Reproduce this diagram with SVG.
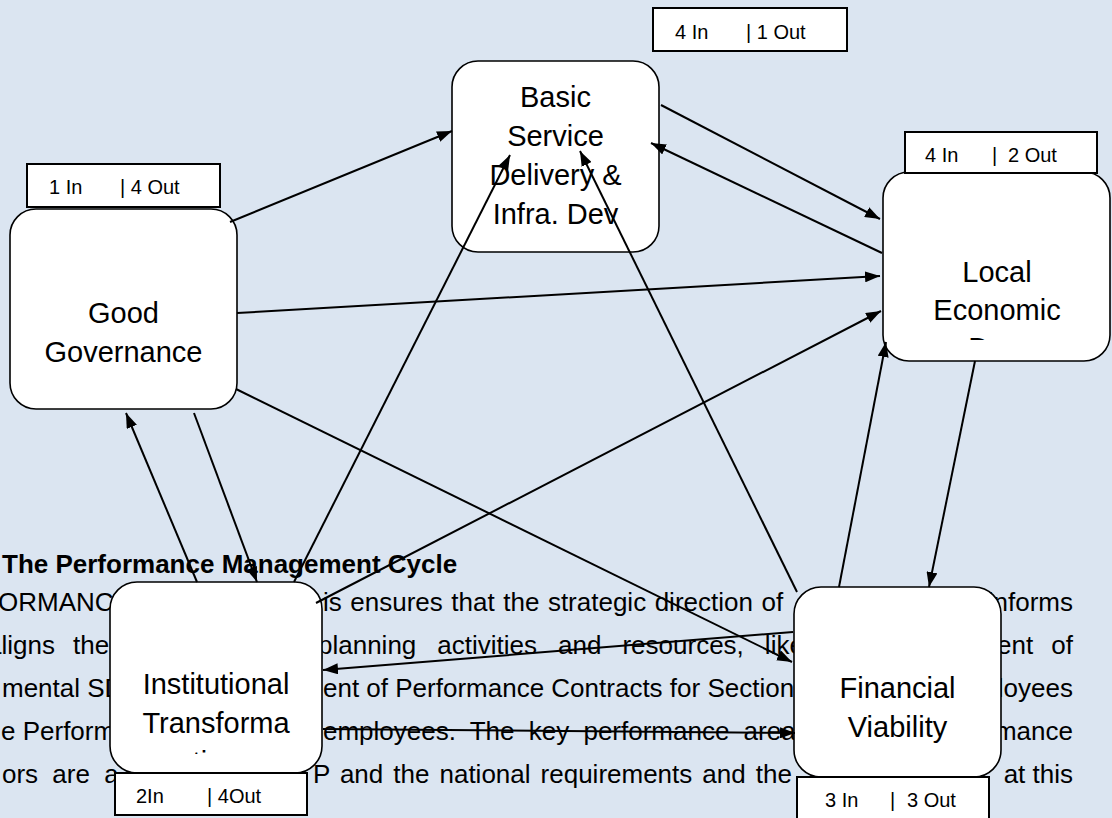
<svg xmlns="http://www.w3.org/2000/svg" width="1112" height="818" viewBox="0 0 1112 818">
  <defs>
    <style>
      .para { font-family: "Liberation Sans", Arial, sans-serif; font-size: 26px; fill: #000; }
      .head { font-weight: bold; }
      .end { text-anchor: end; }
      .box { fill: #fff; stroke: #000; stroke-width: 1.6; }
      .tag { fill: #fff; stroke: #000; stroke-width: 2; }
      .name { font-family: "Liberation Sans", Arial, sans-serif; font-size: 29px; fill: #000; text-anchor: middle; }
      .count { font-family: "Liberation Sans", Arial, sans-serif; font-size: 20px; fill: #000; }
      .edge { stroke: #000; stroke-width: 2; fill: none; marker-end: url(#arrow); }
    </style>
    <marker id="arrow" markerUnits="userSpaceOnUse" markerWidth="15" markerHeight="11" refX="15" refY="5.5" orient="auto">
      <path d="M0,0 L15,5.5 L0,11 Z" fill="#000"/>
    </marker>
    <!-- the node text frames cut the last line short -->
    <clipPath id="clip-led"><rect x="883" y="172" width="227" height="168"/></clipPath>
    <clipPath id="clip-inst"><rect x="110" y="582" width="212" height="172"/></clipPath>
  </defs>

  <rect width="1112" height="818" fill="#dbe5f1"/>

  <!-- page text running behind the diagram -->
  <g id="page-text" class="para">
    <text class="head" x="2" y="573">The Performance Management Cycle</text>

    <text x="-2" y="611">ORMANC</text>
    <text x="323" y="611" word-spacing="1.3">is ensures that the strategic direction of</text>
    <text class="end" x="1073" y="611">informs</text>

    <text x="-13" y="654">aligns</text>
    <text x="73" y="654">the</text>
    <text x="318" y="654" word-spacing="13.8">planning activities and resources, like</text>
    <text x="997" y="654">ent</text>
    <text class="end" x="1073" y="654">of</text>

    <text x="2" y="697">mental SD</text>
    <text x="323" y="697">ent of Performance Contracts for Section</text>
    <text class="end" x="1073" y="697">loyees</text>

    <text x="1" y="740">e Perform</text>
    <text x="323" y="740" word-spacing="7">employees. The key performance areas</text>
    <text class="end" x="1073" y="740">mance</text>

    <text x="2" y="783" word-spacing="7">ors are a</text>
    <text x="313" y="783" word-spacing="2.8">P and the national requirements and the</text>
    <text class="end" x="1073" y="783">at this</text>
  </g>

  <!-- nodes -->
  <g id="node-good-governance">
    <rect class="box" x="10" y="209" width="227" height="200" rx="26" ry="26"/>
    <text class="name" x="123.5" y="323">Good</text>
    <text class="name" x="123.5" y="362">Governance</text>
    <rect class="tag" x="27" y="164" width="193" height="43"/>
    <text class="count" x="49" y="194">1 In</text>
    <text class="count" x="120" y="194">| 4 Out</text>
  </g>

  <g id="node-basic-service">
    <rect class="box" x="452" y="61" width="207" height="191" rx="26" ry="26"/>
    <text class="name" x="555.5" y="107">Basic</text>
    <text class="name" x="555.5" y="146">Service</text>
    <text class="name" x="555.5" y="185">Delivery &amp;</text>
    <text class="name" x="555.5" y="224">Infra. Dev</text>
    <rect class="tag" x="653" y="8" width="194" height="43"/>
    <text class="count" x="675" y="39">4 In</text>
    <text class="count" x="746" y="39">| 1 Out</text>
  </g>

  <g id="node-local-economic">
    <rect class="box" x="883" y="172" width="227" height="189" rx="26" ry="26"/>
    <g clip-path="url(#clip-led)">
      <text class="name" x="997" y="282">Local</text>
      <text class="name" x="997" y="320">Economic</text>
      <text class="name" x="997" y="358">Dev.</text>
    </g>
    <rect class="tag" x="905" y="132" width="192" height="41"/>
    <text class="count" x="925" y="162">4 In</text>
    <text class="count" x="992" y="162">|</text>
    <text class="count" x="1008" y="162">2 Out</text>
  </g>

  <g id="node-institutional">
    <rect class="box" x="110" y="582" width="212" height="191" rx="27" ry="27"/>
    <g clip-path="url(#clip-inst)">
      <text class="name" x="216" y="694">Institutional</text>
      <text class="name" x="216" y="733">Transforma</text>
      <text class="name" x="216" y="772">tion</text>
    </g>
    <rect class="tag" x="115" y="773" width="192" height="42"/>
    <text class="count" x="136" y="803">2In</text>
    <text class="count" x="207" y="803">| 4Out</text>
  </g>

  <g id="node-financial">
    <rect class="box" x="794" y="587" width="207" height="190" rx="27" ry="27"/>
    <text class="name" x="897.5" y="698">Financial</text>
    <text class="name" x="897.5" y="737">Viability</text>
    <rect class="tag" x="797" y="777" width="192" height="44"/>
    <text class="count" x="825" y="807">3 In</text>
    <text class="count" x="890" y="807">|</text>
    <text class="count" x="907" y="807">3 Out</text>
  </g>

  <!-- connectors -->
  <g id="connectors">
    <line class="edge" x1="230" y1="222" x2="452" y2="131"/>
    <line class="edge" x1="661" y1="105" x2="880" y2="219"/>
    <line class="edge" x1="882" y1="253" x2="651" y2="143"/>
    <line class="edge" x1="237" y1="313" x2="880" y2="276"/>
    <line class="edge" x1="236" y1="389" x2="792" y2="662"/>
    <line class="edge" x1="197" y1="582" x2="126" y2="413"/>
    <line class="edge" x1="194" y1="413" x2="257" y2="582"/>
    <line class="edge" x1="294" y1="582" x2="510" y2="155"/>
    <line class="edge" x1="797" y1="592" x2="580" y2="151"/>
    <line class="edge" x1="839" y1="587" x2="886" y2="342"/>
    <line class="edge" x1="975" y1="361" x2="929" y2="587"/>
    <line class="edge" x1="316" y1="603" x2="881" y2="311"/>
    <line class="edge" x1="793" y1="632" x2="323" y2="670"/>
    <line class="edge" x1="323" y1="729" x2="795" y2="733"/>
  </g>
</svg>
